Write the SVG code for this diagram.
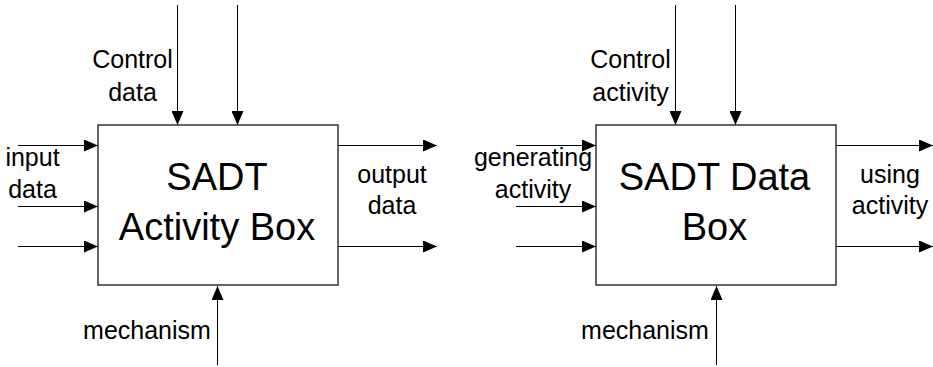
<svg xmlns="http://www.w3.org/2000/svg" width="933" height="367" viewBox="0 0 933 367">
<style>
.box{fill:#fff;stroke:#333;stroke-width:1.5}
.c{stroke:#000;stroke-width:1;fill:none;marker-end:url(#ah)}
.t{font-family:"Liberation Sans",Arial,sans-serif;font-size:25px;fill:#000;text-anchor:middle}
.tb{font-family:"Liberation Sans",Arial,sans-serif;font-size:38px;fill:#000;text-anchor:middle}
</style>
<defs>
<marker id="ah" markerUnits="userSpaceOnUse" markerWidth="14" markerHeight="12" refX="14" refY="6" orient="auto">
<path d="M0,0 L14,6 L0,12 z" fill="#000"/>
</marker>
</defs>
<rect width="933" height="367" fill="#fff"/>
<g id="connectors">
<line class="c" x1="177.5" y1="5" x2="177.5" y2="125"/>
<line class="c" x1="237.5" y1="5" x2="237.5" y2="125"/>
<line class="c" x1="18" y1="145.5" x2="98" y2="145.5"/>
<line class="c" x1="18" y1="206.5" x2="98" y2="206.5"/>
<line class="c" x1="18" y1="246.5" x2="98" y2="246.5"/>
<line class="c" x1="338" y1="145.5" x2="437" y2="145.5"/>
<line class="c" x1="338" y1="246.5" x2="437" y2="246.5"/>
<line class="c" x1="217.5" y1="365" x2="217.5" y2="286"/>
<line class="c" x1="675.5" y1="5" x2="675.5" y2="125"/>
<line class="c" x1="735.5" y1="5" x2="735.5" y2="125"/>
<line class="c" x1="516" y1="145.5" x2="596" y2="145.5"/>
<line class="c" x1="516" y1="206.5" x2="596" y2="206.5"/>
<line class="c" x1="516" y1="246.5" x2="596" y2="246.5"/>
<line class="c" x1="836" y1="145.5" x2="933" y2="145.5"/>
<line class="c" x1="836" y1="246.5" x2="933" y2="246.5"/>
<line class="c" x1="716.5" y1="365" x2="716.5" y2="286"/>
</g>
<g id="activity-box">
<rect class="box" x="98" y="125" width="240" height="160"/>
<text class="tb" x="217" y="190">SADT</text>
<text class="tb" x="217" y="240">Activity Box</text>
</g>
<g id="data-box">
<rect class="box" x="596" y="125" width="240" height="160"/>
<text class="tb" x="714.5" y="190">SADT Data</text>
<text class="tb" x="714.5" y="240">Box</text>
</g>
<g id="labels-left">
<text class="t" x="132.5" y="68">Control</text>
<text class="t" x="132.5" y="100.5">data</text>
<text class="t" x="32.5" y="165.5">input</text>
<text class="t" x="32.5" y="197.5">data</text>
<text class="t" x="392" y="183">output</text>
<text class="t" x="392" y="214">data</text>
<text class="t" x="147" y="339">mechanism</text>
</g>
<g id="labels-right">
<text class="t" x="630.5" y="68">Control</text>
<text class="t" x="630.5" y="100.5">activity</text>
<text class="t" x="533" y="165.5">generating</text>
<text class="t" x="533" y="197.5">activity</text>
<text class="t" x="890" y="183">using</text>
<text class="t" x="890" y="214">activity</text>
<text class="t" x="645" y="339">mechanism</text>
</g>
</svg>
